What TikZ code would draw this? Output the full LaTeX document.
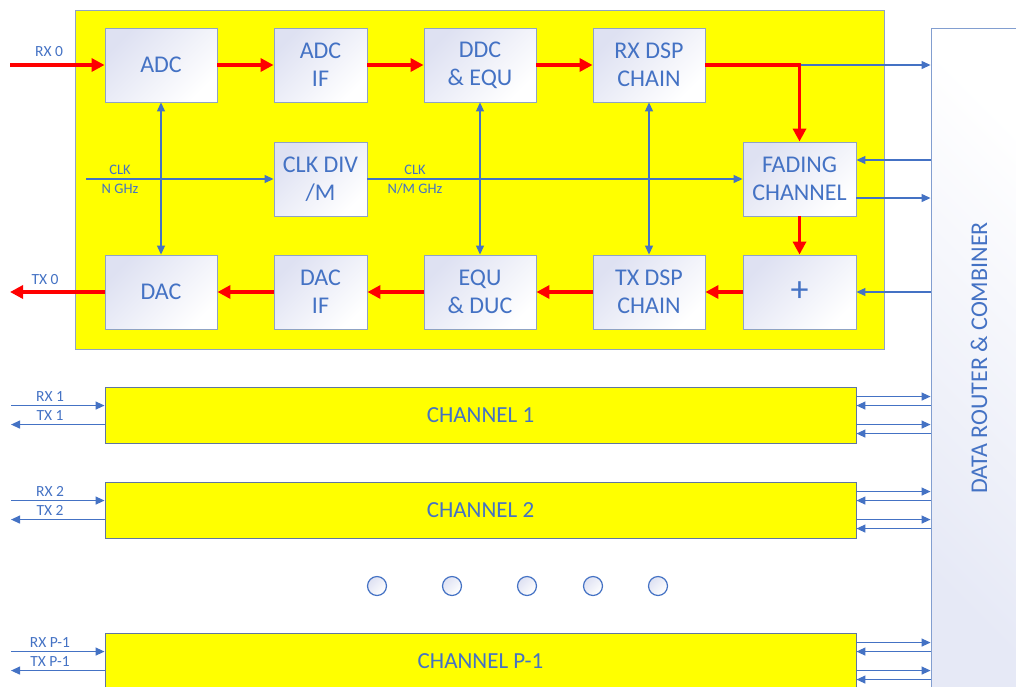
\documentclass[tikz,border=0pt]{standalone}
\usepackage{fontspec}
\setmainfont{Carlito}
\usetikzlibrary{arrows.meta,calc}
\definecolor{txtblue}{RGB}{68,114,196}
\definecolor{edgegray}{RGB}{143,163,196}
\definecolor{routeredge}{RGB}{130,158,208}
\definecolor{chedge}{RGB}{96,118,160}
\definecolor{shadelav}{RGB}{222,225,242}
\definecolor{routerlav}{RGB}{230,233,246}
\definecolor{sigred}{RGB}{255,0,0}
\definecolor{chyellow}{RGB}{255,255,0}

\begin{document}
\begin{tikzpicture}[x=1pt,y=-1pt,
  blockfill/.style={top color=shadelav, bottom color=white, shading angle=45},
  blk/.style={draw=edgegray, line width=0.9pt, blockfill, minimum width=112, minimum height=74,
    inner sep=0, align=center, text=txtblue, font=\fontsize{24}{28}\selectfont},
  narrow/.style={minimum width=93},
  chan/.style={draw=chedge, line width=0.9pt, fill=chyellow, minimum width=751, minimum height=56,
    inner sep=0, text=txtblue, font=\fontsize{23}{26}\selectfont},
  redsig/.style={draw=sigred, line width=3.3pt, -{Triangle[length=13pt,width=13pt]}},
  bluesig/.style={draw=txtblue, line width=1.2pt, -{Triangle[length=9pt,width=8pt]}},
  bluedbl/.style={draw=txtblue, line width=1.2pt, {Triangle[length=9pt,width=8pt]}-{Triangle[length=9pt,width=8pt]}},
  lbl/.style={text=txtblue, font=\fontsize{15.5}{17}\selectfont, inner sep=0},
  clklbl/.style={text=txtblue, font=\fontsize{14.5}{16}\selectfont, inner sep=0},
  dot/.style={circle, draw=txtblue, line width=1.2pt, minimum size=19, inner sep=0, blockfill},
]
\useasboundingbox (0,0) rectangle (1016,686);
\clip (0,0) rectangle (1016,686);

% channel 0 carrier
\node[draw=edgegray, line width=0.9pt, fill=chyellow, minimum width=809, minimum height=339, inner sep=0] (core) at (479.5,179.5) {};

% data router
\node[draw=routeredge, line width=0.9pt, top color=white, bottom color=routerlav, shading angle=-45,
  minimum width=96, minimum height=660, inner sep=0] (router) at (979,358) {};
\node[rotate=90, text=txtblue, font=\fontsize{24}{26}\selectfont, inner sep=0] (routerlbl) at (router.center) {DATA ROUTER \& COMBINER};

% receive path
\node[blk] (adc) at (161,65) {ADC};
\node[blk, narrow] (adcif) at (320.5,65) {ADC\\IF};
\node[blk] (ddc) at (480,65) {DDC\\\& EQU};
\node[blk] (rxdsp) at (649,65) {RX DSP\\CHAIN};
% clock and channel model
\node[blk, narrow] (clkdiv) at (320.5,179) {CLK DIV\\/M};
\node[blk, minimum width=113] (fading) at (799.5,179) {FADING\\CHANNEL};
% transmit path
\node[blk] (dac) at (161,292) {DAC};
\node[blk, narrow] (dacif) at (320.5,292) {DAC\\IF};
\node[blk] (equ) at (480,292) {EQU\\\& DUC};
\node[blk] (txdsp) at (649,292) {TX DSP\\CHAIN};
\node[blk, minimum width=113, font=\fontsize{36}{36}\selectfont] (plus) at (799.5,292) {+};

% further channels
\node[chan] (ch1) at (480.5,415) {CHANNEL 1};
\node[chan] (ch2) at (480.5,510) {CHANNEL 2};
\node[chan] (chp) at (480.5,661) {CHANNEL P-1};

% ellipsis between channels
\node[dot] (d1) at (377,586) {};
\node[dot] (d2) at (452,586) {};
\node[dot] (d3) at (527,586) {};
\node[dot] (d4) at (593,586) {};
\node[dot] (d5) at (658,586) {};

% clock distribution
\coordinate (clkin) at (86,179);
\draw[bluesig] (clkin) -- (clkdiv.west);
\draw[bluesig] (clkdiv.east) -- (fading.west);
\node[clklbl] (clkA) at (120,170) {CLK};
\node[clklbl] (clkAf) at (120,188.5) {N GHz};
\node[clklbl] (clkB) at (415,170) {CLK};
\node[clklbl] (clkBf) at (415,188.5) {N/M GHz};
\draw[bluedbl] (adc.south) -- (dac.north);
\draw[bluedbl] (ddc.south) -- (equ.north);
\draw[bluedbl] (rxdsp.south) -- (txdsp.north);

% links to the data router
\coordinate (split) at (rxdsp.east -| fading.north);
\draw[bluesig] (split) -- (split -| router.west);
\path ([yshift=19pt]fading.east) coordinate (fin);
\path ([yshift=-19pt]fading.east) coordinate (fout);
\draw[bluesig] (fin -| router.west) -- (fin);
\draw[bluesig] (fout) -- (fout -| router.west);
\draw[bluesig] (plus.east -| router.west) -- (plus.east);

% signal path of channel 0
\coordinate (rx0) at (10,65);
\coordinate (tx0) at (10,292);
\draw[redsig] (rx0) -- (adc.west);
\draw[redsig] (adc.east) -- (adcif.west);
\draw[redsig] (adcif.east) -- (ddc.west);
\draw[redsig] (ddc.east) -- (rxdsp.west);
\draw[redsig] (rxdsp.east) -| (fading.north);
\draw[redsig] (fading.south) -- (plus.north);
\draw[redsig] (plus.west) -- (txdsp.east);
\draw[redsig] (txdsp.west) -- (equ.east);
\draw[redsig] (equ.west) -- (dacif.east);
\draw[redsig] (dacif.west) -- (dac.east);
\draw[redsig] (dac.west) -- (tx0);
\node[lbl] (rx0lbl) at (49,52) {RX 0};
\node[lbl] (tx0lbl) at (45,280) {TX 0};

% ports of the further channels
\foreach \c/\rx/\tx in {ch1/RX 1/TX 1, ch2/RX 2/TX 2, chp/RX P-1/TX P-1}{
  \path ([yshift=-10pt]\c.north east) coordinate (\c-o1)
        ([yshift=-19pt]\c.north east) coordinate (\c-i1)
        ([yshift=-38pt]\c.north east) coordinate (\c-o2)
        ([yshift=-47pt]\c.north east) coordinate (\c-i2);
  \draw[bluesig] (\c-o1) -- (\c-o1 -| router.west);
  \draw[bluesig] (\c-i1 -| router.west) -- (\c-i1);
  \draw[bluesig] (\c-o2) -- (\c-o2 -| router.west);
  \draw[bluesig] (\c-i2 -| router.west) -- (\c-i2);
  \path ([yshift=-19pt]\c.north west) coordinate (\c-rxp)
        ([yshift=-38pt]\c.north west) coordinate (\c-txp);
  \path (\c-rxp -| 11,0) coordinate (\c-rxend)
        (\c-txp -| 11,0) coordinate (\c-txend);
  \draw[bluesig] (\c-rxend) -- (\c-rxp);
  \draw[bluesig] (\c-txp) -- (\c-txend);
  \node[lbl] at ([yshift=-10pt]\c.north west -| 50,0) {\rx};
  \node[lbl] at ([yshift=-29pt]\c.north west -| 50,0) {\tx};
}
\end{tikzpicture}
\end{document}
